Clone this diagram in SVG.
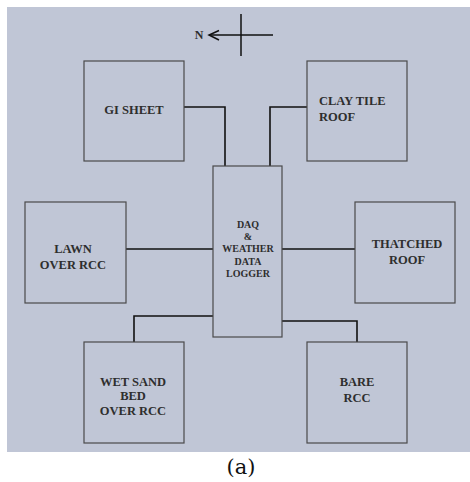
<svg xmlns="http://www.w3.org/2000/svg" width="470" height="482" viewBox="0 0 470 482">
<style>
.box{fill:none;stroke:#4a4a4a;stroke-width:1.2}
.lbl{font-family:"Liberation Serif",serif;font-weight:bold;font-size:12.5px;fill:#2e2e2e;text-anchor:middle}
.small{font-size:10px}
.wire{fill:none;stroke:#111;stroke-width:1.6}
</style>
<rect x="0" y="0" width="470" height="482" fill="#ffffff"/>
<rect x="7" y="7" width="463" height="445" fill="#c0c6d6"/>
<g id="compass">
<line x1="241" y1="14" x2="241" y2="56" stroke="#111" stroke-width="1.5"/>
<line x1="209" y1="35" x2="273" y2="35" stroke="#111" stroke-width="1.5"/>
<polyline points="219,30.5 209,35 219,40" fill="none" stroke="#111" stroke-width="1.5"/>
<text x="199" y="38.5" class="lbl" style="font-size:12px">N</text>
</g>
<g id="connectors">
<polyline class="wire" points="184,107 225,107 225,166"/>
<polyline class="wire" points="307,107 270,107 270,166"/>
<line class="wire" x1="126" y1="249" x2="213" y2="249"/>
<line class="wire" x1="282" y1="249" x2="355" y2="249"/>
<polyline class="wire" points="213,316 134,316 134,342"/>
<polyline class="wire" points="282,321 357,321 357,342"/>
</g>
<g id="gi-sheet">
<rect class="box" x="84" y="61" width="100" height="100"/>
<text class="lbl" x="134" y="114">GI SHEET</text>
</g>
<g id="clay-tile-roof">
<rect class="box" x="307" y="61" width="100" height="100"/>
<text class="lbl" x="319" y="105" style="text-anchor:start">CLAY TILE</text>
<text class="lbl" x="319" y="121" style="text-anchor:start">ROOF</text>
</g>
<g id="daq">
<rect class="box" x="213" y="166" width="69" height="171"/>
<text class="lbl small" x="248" y="228">DAQ</text>
<text class="lbl small" x="248" y="240">&amp;</text>
<text class="lbl small" x="248" y="252">WEATHER</text>
<text class="lbl small" x="248" y="265">DATA</text>
<text class="lbl small" x="248" y="277">LOGGER</text>
</g>
<g id="lawn">
<rect class="box" x="25" y="202" width="101" height="101"/>
<text class="lbl" x="73" y="253">LAWN</text>
<text class="lbl" x="73" y="269">OVER RCC</text>
</g>
<g id="thatched-roof">
<rect class="box" x="355" y="202" width="100" height="101"/>
<text class="lbl" x="407" y="248">THATCHED</text>
<text class="lbl" x="407" y="264">ROOF</text>
</g>
<g id="wet-sand">
<rect class="box" x="84" y="342" width="100" height="101"/>
<text class="lbl" x="133" y="386">WET SAND</text>
<text class="lbl" x="133" y="400">BED</text>
<text class="lbl" x="133" y="415">OVER RCC</text>
</g>
<g id="bare-rcc">
<rect class="box" x="307" y="342" width="100" height="101"/>
<text class="lbl" x="357" y="386">BARE</text>
<text class="lbl" x="357" y="402">RCC</text>
</g>
<text x="241" y="474" font-family="'DejaVu Serif','Liberation Serif',serif" font-size="21" fill="#111" text-anchor="middle">(a)</text>
</svg>
